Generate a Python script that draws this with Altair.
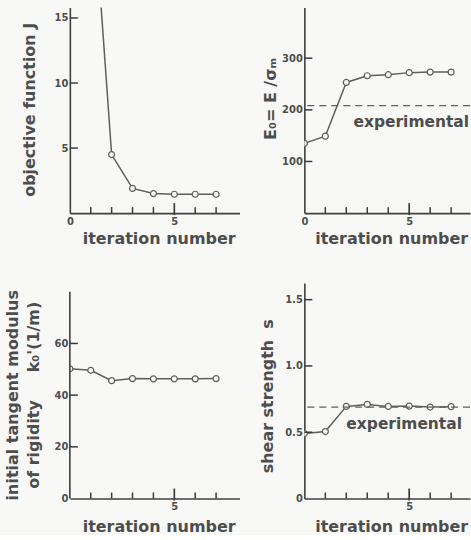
import altair as alt
import pandas as pd

# ---------------- data ----------------
iter_j = [1, 2, 3, 4, 5, 6, 7]
objective_j = [27.0, 4.5, 1.9, 1.5, 1.45, 1.45, 1.45]

iterations = [0, 1, 2, 3, 4, 5, 6, 7]
e0_ratio = [135, 149, 253, 266, 268, 272, 273, 273]
e0_experimental = 208

k0_modulus = [50.2, 49.6, 45.6, 46.4, 46.3, 46.3, 46.3, 46.4]

shear_s = [0.49, 0.505, 0.695, 0.71, 0.695, 0.697, 0.69, 0.693]
shear_experimental = 0.69

x_minor_ticks = [1, 2, 3, 4, 6, 7]
x_major_ticks = [5]

# ---------------- style ----------------
FONT = "DejaVu Sans"
BG = "#f8f8f6"
AX = "#404040"
LN = "#5e5e5e"
TXT = "#4d4d4d"
TK = "#3a3a3a"
NB = "\u00a0"


def axis_x(values, w, title_pad):
    return alt.Axis(values=values, ticks=False, grid=False, domainColor=AX, domainWidth=1.6,
                    labelFont=FONT, labelFontSize=10, labelFontWeight="bold", labelColor=TXT,
                    labelPadding=3, labelFlush=False, title="iteration number", titleFont=FONT,
                    titleFontSize=16, titleFontWeight="bold", titleColor=TXT,
                    titlePadding=title_pad, minExtent=13, maxExtent=13, titleX=w / 2 + 4)


def axis_y(values, title, title_pad, title_y, label_expr=None, domain=True, line_height=None):
    kw = dict(values=values, ticks=False, grid=False, domain=domain, domainColor=AX, domainWidth=1.6,
              labelFont=FONT, labelFontSize=10, labelFontWeight="bold", labelColor=TXT,
              labelPadding=2, minExtent=20, maxExtent=20, title=title, titleFont=FONT,
              titleFontSize=16, titleFontWeight="bold", titleColor=TXT, titlePadding=title_pad,
              titleY=title_y)
    if label_expr:
        kw["labelExpr"] = label_expr
    if line_height:
        kw["titleLineHeight"] = line_height
    return alt.Axis(**kw)


def panel(xs, ys, ydom, w, h, xdom, xvals, yvals, ytitle, ytitle_pad, ytitle_y, ytick_vals,
          xtitle_pad, label_expr=None, line_height=None, y_axis_top=None, exp=None, exp_pos=None):
    xs_scale = alt.Scale(domain=xdom, nice=False, zero=False)
    ys_scale = alt.Scale(domain=ydom, nice=False, zero=False)
    df = pd.DataFrame({"iteration": xs, "value": ys})
    base = alt.Chart(df).encode(
        x=alt.X("iteration:Q", scale=xs_scale, axis=axis_x(xvals, w, xtitle_pad)),
        y=alt.Y("value:Q", scale=ys_scale,
                axis=axis_y(yvals, ytitle, ytitle_pad, ytitle_y, label_expr,
                            domain=(y_axis_top is None), line_height=line_height)),
    )
    line = base.mark_line(color=LN, strokeWidth=1.5, clip=True)
    pts = base.mark_point(shape="circle", filled=True, fill=BG, stroke=LN, strokeWidth=1.2,
                          size=36, opacity=1, clip=True)
    layers = [line, pts]

    yt = alt.Chart(pd.DataFrame({"value": ytick_vals})).mark_rule(color=TK, strokeWidth=1.5).encode(
        y=alt.Y("value:Q", scale=ys_scale), x=alt.value(0), x2=alt.value(8))
    xt_minor = alt.Chart(pd.DataFrame({"iteration": x_minor_ticks})).mark_rule(
        color=TK, strokeWidth=1.5).encode(
        x=alt.X("iteration:Q", scale=xs_scale), y=alt.value(h), y2=alt.value(h - 6))
    xt_major = alt.Chart(pd.DataFrame({"iteration": x_major_ticks})).mark_rule(
        color=TK, strokeWidth=1.7).encode(
        x=alt.X("iteration:Q", scale=xs_scale), y=alt.value(h + 2), y2=alt.value(h - 10))
    layers += [yt, xt_minor, xt_major]

    if y_axis_top is not None:
        dl = alt.Chart(pd.DataFrame({"value": [0], "top": [y_axis_top]})).mark_rule(
            color=AX, strokeWidth=1.6).encode(
            x=alt.value(0), y=alt.Y("value:Q", scale=ys_scale), y2="top:Q")
        layers.append(dl)

    if exp is not None:
        dash = alt.Chart(pd.DataFrame({"value": [exp]})).mark_rule(
            color=LN, strokeWidth=1.3, strokeDash=[7, 5]).encode(
            y=alt.Y("value:Q", scale=ys_scale))
        txt = alt.Chart(pd.DataFrame({"iteration": [exp_pos[0]], "value": [exp_pos[1]],
                                      "label": ["experimental"]})).mark_text(
            font=FONT, fontSize=15.5, fontWeight="bold", color=TXT, align="center",
            baseline="middle").encode(
            x=alt.X("iteration:Q", scale=xs_scale),
            y=alt.Y("value:Q", scale=ys_scale),
            text="label:N")
        layers += [dash, txt]

    return alt.layer(*layers).properties(width=w, height=h)


p1 = panel(iter_j, objective_j, [0, 15.8], 170, 206, [0, 8.12], [0, 5], [5, 10, 15],
           "objective function J", 12, 102, [5, 10, 15], 4)
p2 = panel(iterations, e0_ratio, [0, 398], 166, 206, [0, 7.9], [0, 5], [100, 200, 300],
           "E₀= E /σₘ", 6, 91, [100, 200, 300], 4, exp=e0_experimental, exp_pos=[5.1, 176])
p3 = panel(iterations, k0_modulus, [0, 83.4], 170, 216, [0, 8.12], [5], [0, 20, 40, 60],
           ["initial tangent modulus", "of rigidity" + NB * 5 + "k₀'(1/m)"], 8, 112, [20, 40, 60], 7,
           line_height=21, y_axis_top=80)
p4 = panel(iterations, shear_s, [0, 1.626], 166, 216, [0, 7.9], [5], [0, 0.5, 1.0, 1.5],
           "shear strength" + NB * 2 + "s", 9, 113, [0.5, 1.0, 1.5], 7,
           label_expr="datum.value == 0 ? '0' : format(datum.value, '.1f')",
           exp=shear_experimental, exp_pos=[4.76, 0.56])

chart = alt.concat(p1, p2, p3, p4, columns=2, spacing={"row": 37, "column": 20},
                   align="each").properties(
    background=BG, padding={"left": 5, "top": 7, "right": 0, "bottom": 0}
).configure_view(stroke=None)

chart.save("out.html", embed_options={"renderer": "svg", "actions": False})
